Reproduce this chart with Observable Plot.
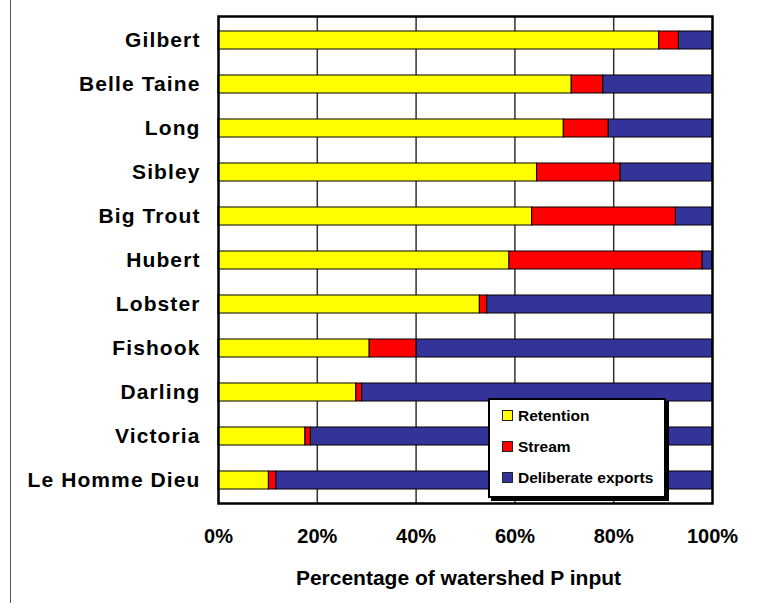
<!DOCTYPE html>
<html>
<head>
<meta charset="utf-8">
<script src="https://cdn.jsdelivr.net/npm/d3@7"></script>
<script src="https://cdn.jsdelivr.net/npm/@observablehq/plot@0.6"></script>
<style>
  html, body { margin: 0; padding: 0; background: #fff; }
  #wrap { position: relative; width: 765px; height: 603px; overflow: hidden; font-family: "Liberation Sans", Arial, Helvetica, sans-serif; }
  #pageline { position: absolute; left: 10px; top: 0; width: 1px; height: 603px; background: #555; }
  #legend { position: absolute; left: 488px; top: 398px; width: 174px; height: 96px; background: #fff; border: 2px solid #000; box-shadow: 3px 3px 0 #000; }
  .item { position: absolute; left: 12px; display: flex; align-items: center; font-weight: bold; font-size: 15.5px; color: #000; line-height: 1; }
  .sw { width: 9px; height: 9px; border: 1px solid #222; margin-right: 5px; }
</style>
</head>
<body>
<div id="wrap">
  <div id="pageline"></div>
  <div id="chart"></div>
  <div id="legend"></div>
</div>
<script>
const lakes = ["Gilbert", "Belle Taine", "Long", "Sibley", "Big Trout", "Hubert", "Lobster", "Fishook", "Darling", "Victoria", "Le Homme Dieu"];
const retention = [89.2, 71.5, 69.9, 64.5, 63.5, 58.9, 52.9, 30.6, 27.9, 17.6, 10.2];
const stream = [4.0, 6.4, 9.1, 16.9, 29.1, 39.1, 1.5, 9.5, 1.2, 1.1, 1.5];
const exportsP = [6.8, 22.1, 21.0, 18.6, 7.4, 2.0, 45.6, 59.9, 70.9, 81.3, 88.3];
const seriesNames = ["Retention", "Stream", "Deliberate exports"];
const seriesColors = ["#FFFF00", "#FF0000", "#333399"];
const xTicks = [0, 20, 40, 60, 80, 100];
const xTitle = "Percentage of watershed P input";

const seriesValues = [retention, stream, exportsP];
const data = [];
lakes.forEach((lake, i) => {
  seriesNames.forEach((s, j) => data.push({lake, series: s, value: seriesValues[j][i]}));
});

const chart = Plot.plot({
  width: 765,
  height: 603,
  marginLeft: 218,
  marginRight: 53,
  marginTop: 16,
  marginBottom: 100,
  style: {fontFamily: '"Liberation Sans", Arial, Helvetica, sans-serif', fontWeight: "bold", color: "#000", background: "transparent"},
  x: {domain: [0, 100]},
  y: {domain: lakes, paddingInner: 0.6, paddingOuter: 0.3},
  color: {domain: seriesNames, range: seriesColors},
  marks: [
    Plot.gridX(xTicks.slice(1, -1), {stroke: "#333", strokeOpacity: 1, strokeWidth: 1.5}),
    Plot.barX(data, {x: "value", y: "lake", fill: "series", stroke: "#000", strokeWidth: 1, order: seriesNames}),
    Plot.frame({stroke: "#000", strokeWidth: 2.5}),
    Plot.axisX({ticks: xTicks, tickSize: 0, tickPadding: 25, tickFormat: d => d + "%", fontSize: 20, label: null}),
    Plot.axisY({tickSize: 0, tickPadding: 18, fontSize: 21, label: null}),
    Plot.text([xTitle], {frameAnchor: "bottom", dy: 81, dx: -7, fontSize: 21, fontWeight: "bold", fill: "#000"})
  ]
});
chart.querySelectorAll('[aria-label="y-axis tick label"] text').forEach(t => t.setAttribute("letter-spacing", "1.1"));
document.getElementById("chart").appendChild(chart);

const legend = document.getElementById("legend");
const rowTops = [8, 39, 70];
seriesNames.forEach((s, j) => {
  const item = document.createElement("div");
  item.className = "item";
  item.style.top = rowTops[j] + "px";
  const sw = document.createElement("div");
  sw.className = "sw";
  sw.style.background = seriesColors[j];
  item.appendChild(sw);
  const lab = document.createElement("span");
  lab.textContent = s;
  item.appendChild(lab);
  legend.appendChild(item);
});
</script>
</body>
</html>
